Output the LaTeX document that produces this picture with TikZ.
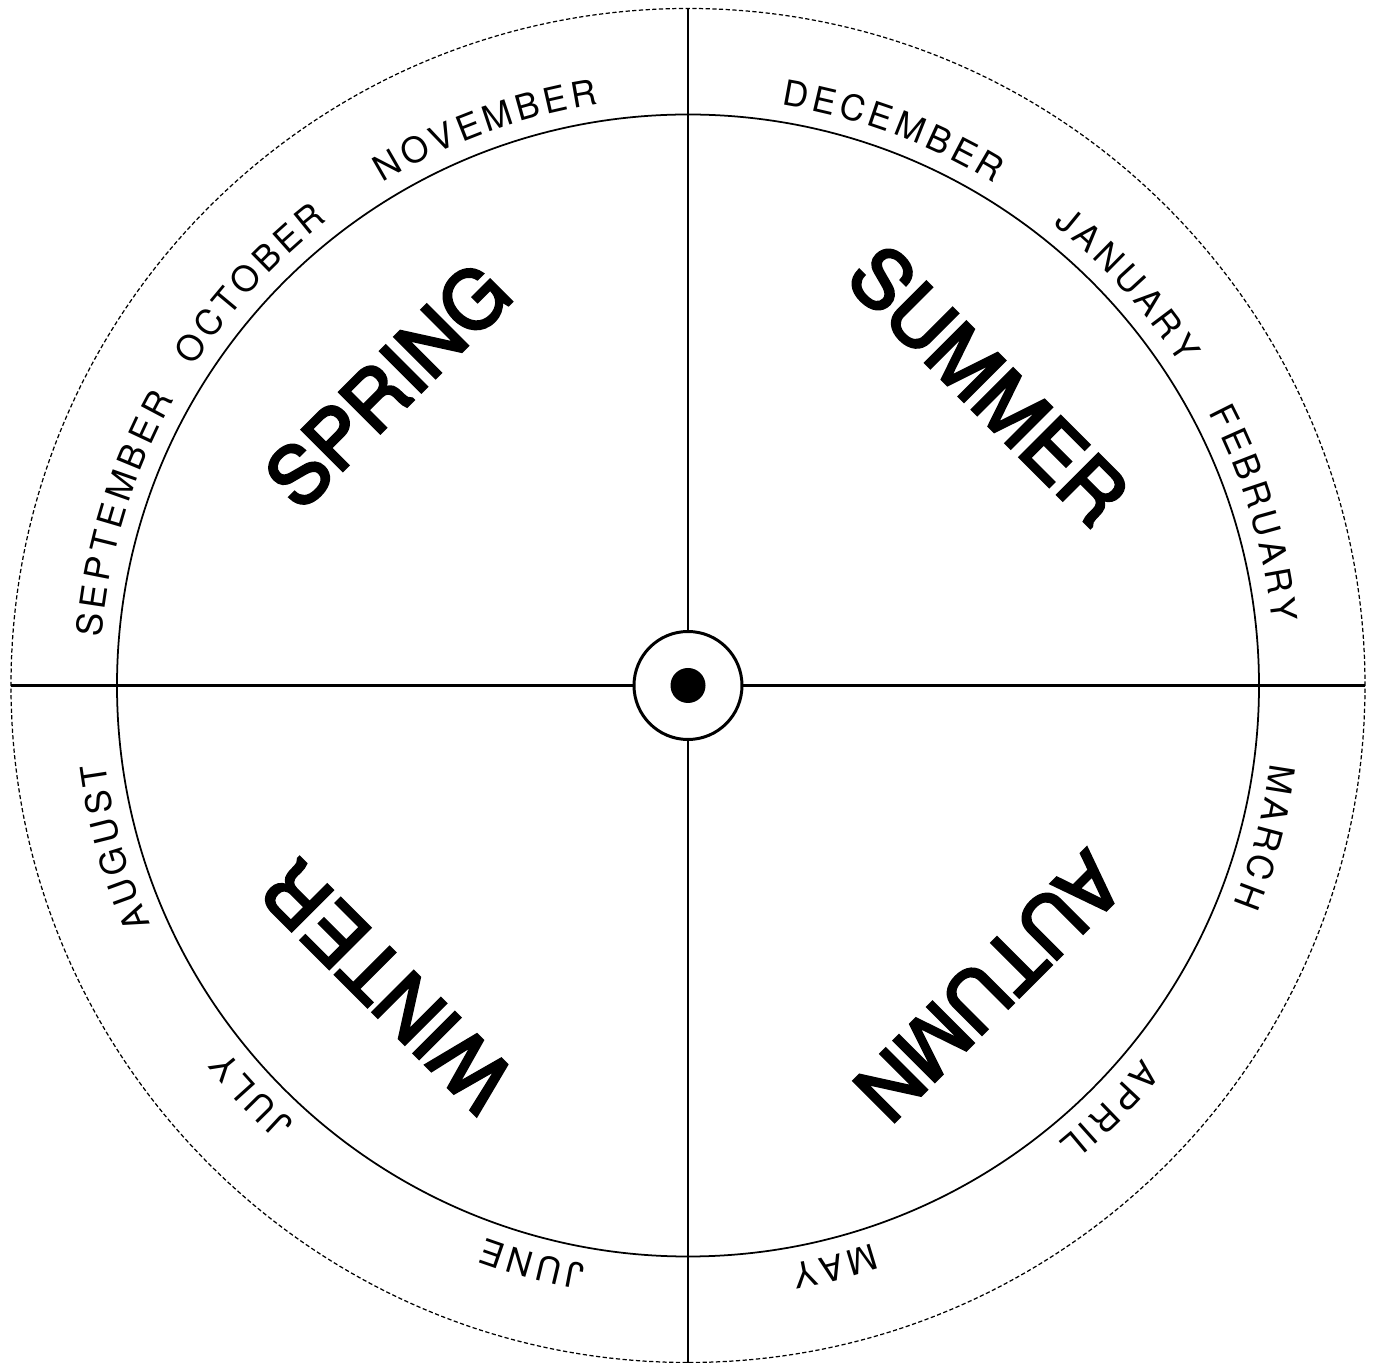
\documentclass[tikz,border=0pt]{standalone}
\usepackage{fontspec}
\newfontfamily\helv{TeX Gyre Heros}
\newfontfamily\helvheavy[FakeBold=3.5]{TeX Gyre Heros}
\usetikzlibrary{decorations.text}
\tikzset{rim/.style={line width=.5pt},
  cut/.style={line width=.35pt,dash pattern=on 1.2pt off .7pt},
  axis/.style={line width=.85pt},
  hub/.style={circle,draw,line width=.85pt,fill=white,minimum size=10.8mm,inner sep=0pt},
  pin/.style={circle,fill=black,minimum size=3.5mm,inner sep=0pt},
  season/.style={font=\helvheavy\fontsize{22.6}{27}\selectfont,inner sep=0pt},
  monthtext/.style={decorate,decoration={text along path,text={|\helv\fontsize{10}{12}\selectfont|#1},text align=fit to path}}}

\begin{document}
\begin{tikzpicture}
\useasboundingbox (-6.88,-6.775) rectangle (6.89,6.855);
% dial
\draw[cut] (0,0) circle (6.77);
\draw[rim] (0,0) circle (5.71);
\node[hub] (hub) at (0,0) {};
\node[pin] (pin) at (0,0) {};
\foreach \d/\n in {0/east,90/north,180/west,270/south}{\coordinate (e\d) at (\d:6.77); \draw[axis] (hub.\n) -- (e\d);}
% seasons
\node[season,rotate=45] (spring) at (135:4.25) {SPRING};
\node[season,rotate=-45] (summer) at (45:4.25) {SUMMER};
\node[season,rotate=-135] (autumn) at (-45:4.25) {AUTUMN};
\node[season,rotate=135] (winter) at (-135:4.25) {WINTER};
% months round the rim
\foreach \m/\a/\s in {NOVEMBER/110/22.5,DECEMBER/69.7/22.3,JANUARY/42.3/18.5,FEBRUARY/16.9/21.6,MARCH/-14.7/14.2,APRIL/-45.2/11.6,MAY/-75.8/8.2,JUNE/-105.1/10.2,JULY/-136.8/9.6,AUGUST/-164.2/16.4,SEPTEMBER/163.1/24.5,OCTOBER/137.5/19.4}
  \path[monthtext/.expanded=\m] ({\a+\s/2}:5.88) arc[start angle={\a+\s/2},delta angle={-\s},radius=5.88];
\end{tikzpicture}
\end{document}
